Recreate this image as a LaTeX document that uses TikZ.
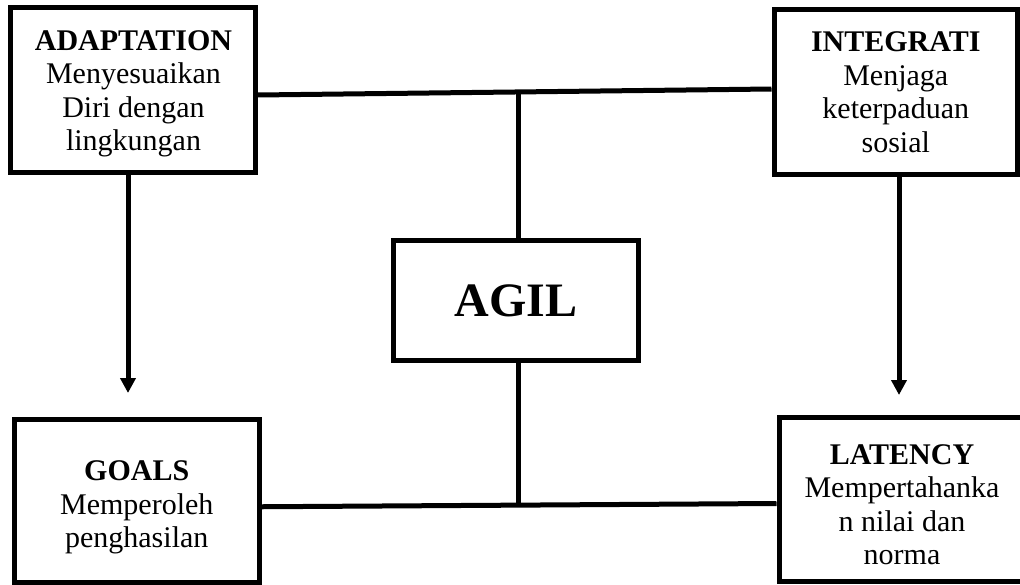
\documentclass[tikz,border=0pt]{standalone}
\usepackage{fontspec}
\setmainfont{Liberation Serif}
\usetikzlibrary{arrows.meta}
\begin{document}
\begin{tikzpicture}[x=1pt,y=-1pt,
  box/.style={draw, line width=5pt, inner sep=0pt},
  txt/.style={inner sep=0pt, align=center, font=\fontsize{30}{33.5}\selectfont},
  link/.style={line width=5pt},
  arr/.style={line width=5pt, -{Triangle[length=15pt,width=15pt]}}]
\useasboundingbox (0,0) rectangle (1020,584);
\fill[white] (0,0) rectangle (1020,584);
\clip (0,0) rectangle (1020,584);
\node[box, minimum width=245pt, minimum height=165pt] (adapt) at (132.5,90) {};
\node[txt] (adaptT) at ([xshift=1pt,yshift=-4pt]adapt.center)
  {\textbf{ADAPTATION}\\Menyesuaikan\\Diri dengan\\lingkungan};
\node[box, minimum width=243.5pt, minimum height=165pt] (integ) at (895.75,92) {};
\node[txt] (integT) at ([yshift=0pt]integ.center)
  {\textbf{INTEGRATI}\\Menjaga\\keterpaduan\\sosial};
\node[box, minimum width=245.5pt, minimum height=162.5pt] (goals) at (136.75,500.75) {};
\node[txt] (goalsT) at ([yshift=-7pt]goals.center)
  {\textbf{GOALS}\\Memperoleh\\penghasilan};
\node[box, minimum width=246pt, minimum height=164pt] (laten) at (902,499.5) {};
\node[txt] (latenT) at ([yshift=-5pt]laten.center)
  {\textbf{LATENCY}\\Mempertahanka\\n nilai dan\\norma};
\node[box, minimum width=245.7pt, minimum height=120pt,
  font=\fontsize{48}{54}\selectfont\bfseries] (agil) at (515.85,300.5) {AGIL};
% horizontal links
\draw[link] ([yshift=-5pt]adapt.east) -- ([yshift=3pt]integ.west);
\draw[link] ([yshift=-6pt]goals.east) -- ([yshift=-4pt]laten.west);
% vertical link through AGIL
\coordinate (vt) at (518,93);
\coordinate (vb) at (518,506);
\draw[link] (vt) -- (vt |- agil.north);
\draw[link] (vb |- agil.south) -- (vb);
% arrows
\coordinate (a1) at (128,393);
\coordinate (a2) at (899,395);
\draw[arr] (a1 |- adapt.south) -- (a1);
\draw[arr] (a2 |- integ.south) -- (a2);
\end{tikzpicture}
\end{document}
